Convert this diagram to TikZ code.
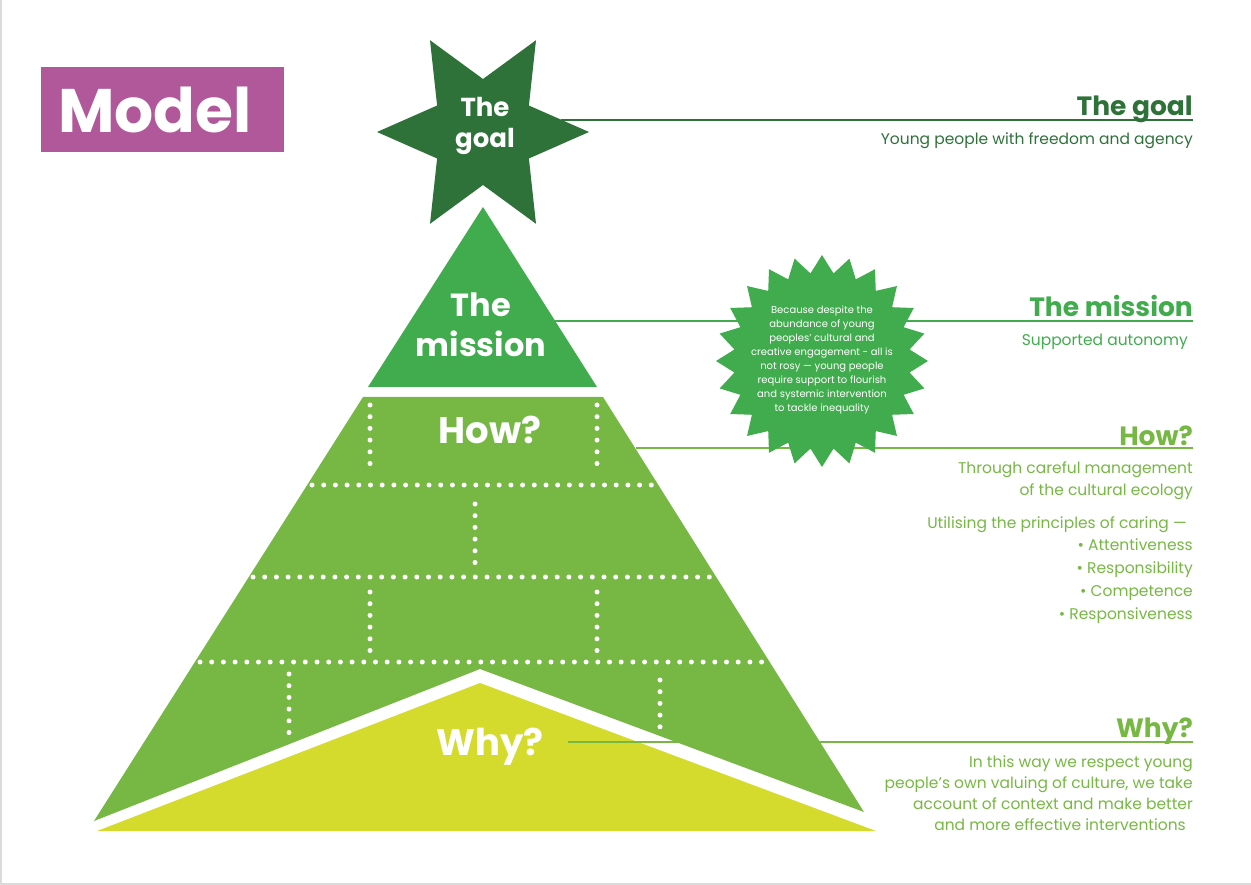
\documentclass[tikz,border=0pt]{standalone}
\usepackage{fontspec}
\setmainfont{Poppins}
\usetikzlibrary{shapes.geometric,positioning}
\definecolor{ModelPurple}{RGB}{176,88,154}
\definecolor{GoalGreen}{RGB}{46,114,58}
\definecolor{MissionGreen}{RGB}{65,172,77}
\definecolor{HowGreen}{RGB}{118,184,67}
\definecolor{WhyYellow}{RGB}{213,219,45}
\colorlet{FrameGrey}{black!14}
\newcommand{\straightq}{{\addfontfeatures{Ligatures=ResetAll}'}}
\tikzset{
  heading/.style={font=\fontsize{#1}{#1}\selectfont\bfseries,inner sep=0pt},
  sidehead/.style={heading=26.5,anchor=base east},
  bodytext/.style={font=\fontsize{15.5}{#1}\selectfont,inner sep=0pt,align=right,anchor=base east},
  tie/.style={line width=1.2pt},
  dotrow/.style={white,line width=5pt,line cap=round,dash pattern=on 0pt off 11.7pt},
}

\begin{document}
\begin{tikzpicture}[x=1pt,y=-1pt]
  \useasboundingbox (0,0) rectangle (1251,885);
  \draw[FrameGrey,line width=1.5pt] (1,0) -- (1,884) -- (1251,884);

  % title box
  \node[fill=ModelPurple,text=white,anchor=north west,minimum width=243,minimum height=85,
    inner xsep=17pt,text width=209pt,align=left,font=\fontsize{61.5}{61.5}\selectfont\bfseries]
    (model) at (41,67) {Model};

  % pyramid: green body, yellow base, mission top
  \fill[HowGreen] (363,397) -- (603,397) -- (864,812) -- (480,669) -- (94,821) -- cycle;
  \fill[WhyYellow] (97,831) -- (480,683) -- (876,831) -- cycle;
  \fill[MissionGreen] (483,207) -- (597,387) -- (368,387) -- cycle;

  % bricks
  \draw[dotrow] (312,485) -- (652,485);
  \draw[dotrow] (253,577) -- (714,577);
  \draw[dotrow] (200,662) -- (766,662);
  \foreach \x in {370,597} {
    \draw[dotrow] (\x,405) -- (\x,475);
    \draw[dotrow] (\x,592) -- (\x,651);
  }
  \draw[dotrow] (475,504) -- (475,563);
  \draw[dotrow] (289,674) -- (289,734);
  \draw[dotrow] (660,680) -- (660,728);

  % goal star
  \node[star,star points=6,star point ratio=2,shape border rotate=30,minimum size=212,
    inner sep=0pt,fill=GoalGreen] (goal) at (483,132) {};
  \node[heading=26,text=white,align=center,anchor=base,font=\fontsize{26}{31}\selectfont\bfseries]
    (goalLabel) at (485,148) {The\\goal};

  % pyramid labels
  \node[heading=32,text=white,align=center,anchor=base,font=\fontsize{32}{40}\selectfont\bfseries]
    (missionLabel) at (481,357) {The\\mission};
  \node[heading=37,text=white,anchor=base] (howLabel) at (490,443) {How?};
  \node[heading=37,text=white,anchor=base] (whyLabel) at (490,755) {Why?};

  % right column
  \node[sidehead,text=GoalGreen] (goalHead) at (1193,116) {The goal};
  \node[bodytext=23,text=GoalGreen] (goalBody) at (1193,145) {Young people with freedom and agency};

  \node[sidehead,text=MissionGreen] (missionHead) at (1193,317) {The mission};
  \node[bodytext=23,text=MissionGreen] (missionBody) at (1188,346) {Supported autonomy};

  \node[sidehead,text=HowGreen] (howHead) at (1193,445) {How?};
  \node[bodytext=22,text=HowGreen] (howBody) at (1193,495) {Through careful management\\of the cultural ecology};
  \node[bodytext=23,text=HowGreen] (caring) at (1187,528) {Utilising the principles of caring —};
  \node[bodytext=22.7,text=HowGreen] (caringList) at (1193,619)
    {• Attentiveness\\• Responsibility\\• Competence\\• Responsiveness};

  \node[sidehead,text=HowGreen] (whyHead) at (1193,737) {Why?};
  \node[bodytext=20.7,text=HowGreen] (whyBody) at (1193,830)
    {In this way we respect young\\people\straightq s own valuing of culture, we take\\account of context and make better\\and more effective interventions\hspace*{7pt}};

  % ties from the pyramid to the headings
  \coordinate (goalTie) at (561,120);
  \coordinate (missionTie) at (555,321);
  \coordinate (howTie) at (636,448);
  \coordinate (whyTie) at (568,742);
  \draw[tie,GoalGreen] (goalTie) -- (goalTie -| goalHead.east);
  \draw[tie,MissionGreen] (missionTie) -- (missionTie -| missionHead.east);
  \draw[tie,HowGreen] (howTie) -- (howTie -| howHead.east);
  \draw[tie,HowGreen] (whyTie) -- (whyTie -| whyHead.east);

  % reason burst
  \node[star,star points=24,star point ratio=1.2,minimum size=212,inner sep=0pt,
    fill=MissionGreen] (reason) at (822,361) {};
  \node[text=white,align=center,inner sep=0pt,font=\fontsize{10}{14.1}\selectfont]
    (reasonText) at (822,360)
    {Because despite the\\abundance of young\\peoples’ cultural and\\creative engagement - all is\\not rosy — young people\\require support to flourish\\and systemic intervention\\to tackle inequality};
\end{tikzpicture}
\end{document}
